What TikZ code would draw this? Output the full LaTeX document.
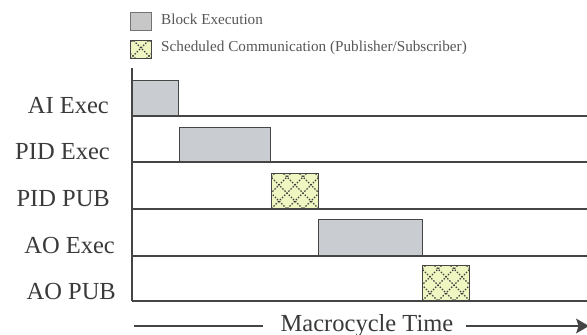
\documentclass[tikz,border=0pt]{standalone}
\usepackage{fontspec}
\setmainfont{Liberation Serif}
\usetikzlibrary{arrows.meta,calc}

\definecolor{ink}{HTML}{3A3A3A}
\definecolor{rule}{HTML}{454545}
\definecolor{blockfill}{HTML}{C9CDD2}
\definecolor{commfill}{HTML}{EFF6C2}
\definecolor{dotink}{HTML}{3C3C3C}

\tikzset{
  blockbar/.style={draw=rule, line width=1pt, fill=blockfill, inner sep=0pt, anchor=south west},
  commbar/.style={draw=rule, line width=1pt, fill=commfill, inner sep=0pt, anchor=south west,
    path picture={
      \begin{scope}[dotink, line width=1.1pt, dash pattern=on 1.4pt off 1.6pt]
        \foreach \k in {-4,...,4}{
          \draw ($(path picture bounding box.south west)+(\k*16pt,0)$) -- ++(60pt,60pt);
          \draw ($(path picture bounding box.south east)+(\k*16pt,0)$) -- ++(-60pt,60pt);
        }
      \end{scope}
    }},
  rowlabel/.style={text=ink, font=\fontsize{24.5}{28}\selectfont, anchor=base east, inner sep=0pt},
  legendtext/.style={text=ink!85, font=\fontsize{15.2}{18}\selectfont, anchor=base west, inner sep=0pt},
  timeline/.style={draw=rule, line width=1.3pt},
}

\begin{document}
\begin{tikzpicture}[x=1pt, y=-1pt]
  \useasboundingbox (0,0) rectangle (587,335);
  \fill[white] (0,0) rectangle (587,335);

  % legend
  \node[draw=black!55, line width=1pt, fill=black!22, minimum width=21pt, minimum height=18pt, inner sep=0pt, anchor=north west] (legblock) at (130,12) {};
  \node[legendtext] (legblocktxt) at (161,24) {Block Execution};
  \node[commbar, minimum width=21pt, minimum height=18pt, anchor=north west] (legcomm) at (130,40) {};
  \node[legendtext] (legcommtxt) at (161,51) {Scheduled Communication (Publisher/Subscriber)};

  % time axis and row baselines
  \coordinate (axtop) at (132,68);
  \coordinate (axbot) at (132,301);
  \draw[timeline] (axtop) -- (axbot);
  \foreach \y/\n in {116/r1,162/r2,209/r3,256/r4,301/r5}{
    \coordinate (\n w) at (132,\y);
    \coordinate (\n e) at (587,\y);
    \draw[timeline] (\n w) -- (\n e);
  }

  % row labels
  \node[rowlabel] (lab1) at (109,113) {AI Exec};
  \node[rowlabel] (lab2) at (110,159) {PID Exec};
  \node[rowlabel] (lab3) at (110,206) {PID PUB};
  \node[rowlabel] (lab4) at (115,253) {AO Exec};
  \node[rowlabel] (lab5) at (116,299) {AO PUB};

  % block executions and publications
  \node[blockbar, minimum width=46pt, minimum height=35pt] (aiexec) at (132,116) {};
  \node[blockbar, minimum width=91pt, minimum height=34pt] (pidexec) at (179,162) {};
  \node[commbar, minimum width=47pt, minimum height=35pt] (pidpub) at (271,209) {};
  \node[blockbar, minimum width=104pt, minimum height=36pt] (aoexec) at (318,256) {};
  \node[commbar, minimum width=47pt, minimum height=35pt] (aopub) at (422,301) {};

  % macrocycle time arrow
  \node[text=ink, font=\fontsize{24.5}{28}\selectfont, anchor=base, inner sep=0pt] (mtime) at (367,331) {Macrocycle Time};
  \coordinate (mstart) at (134,326);
  \coordinate (mleftend) at (263,326);
  \coordinate (mrightstart) at (466,326);
  \coordinate (mend) at (589,326);
  \draw[timeline] (mstart) -- (mleftend);
  \draw[timeline] (mrightstart) -- (mend);
  \fill[rule] (mend) -- ++(-13pt,-7.5pt) -- ++(2.5pt,7.5pt) -- ++(-2.5pt,7.5pt) -- cycle;
\end{tikzpicture}
\end{document}
